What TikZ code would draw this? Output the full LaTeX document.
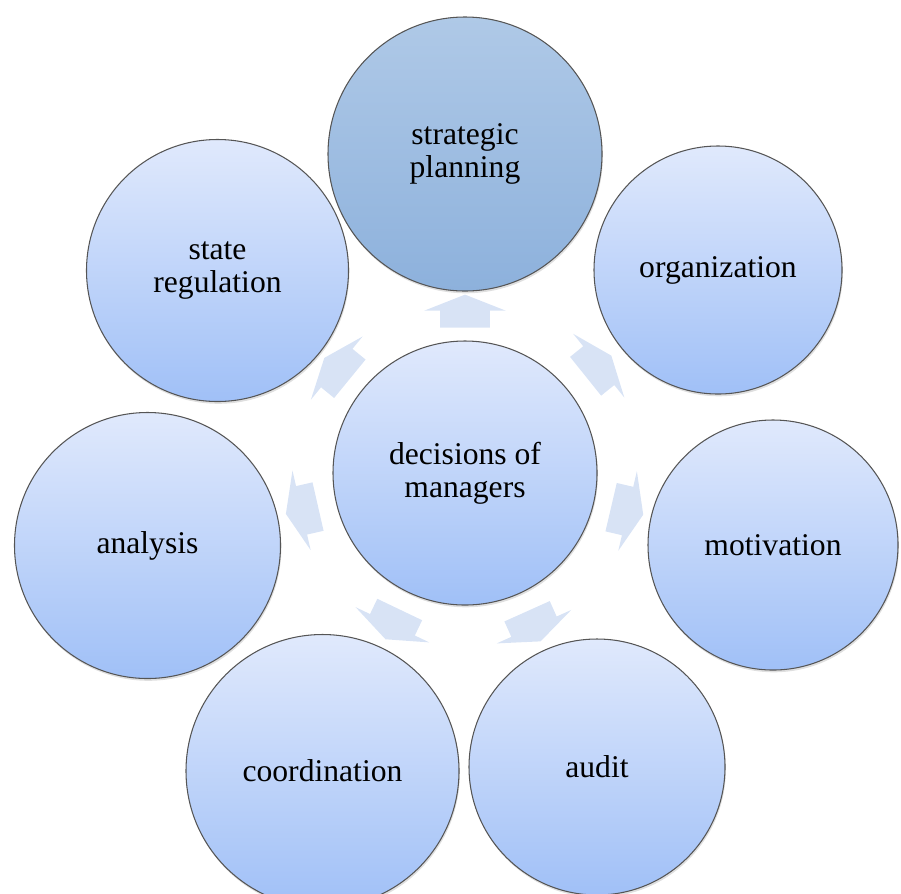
\documentclass[tikz,border=0pt]{standalone}
\usepackage{fontspec}
\setmainfont{Liberation Serif}
\usetikzlibrary{shapes.arrows, shadows}
\definecolor{bubbletop}{HTML}{E0E9FC}
\definecolor{bubblebottom}{HTML}{A0C0F7}
\definecolor{plantop}{HTML}{AFC9E7}
\definecolor{planbottom}{HTML}{8DB1DC}
\definecolor{arrowfill}{HTML}{D8E3F5}
\definecolor{rim}{HTML}{555555}

\begin{document}
\begin{tikzpicture}
      % Styles of the circles and of the block arrows
      \tikzstyle{bubble} = [circle, draw=rim, line width=0.6pt, top color=bubbletop, bottom color=bubblebottom, inner sep=0pt, align=center, font=\rmfamily\fontsize{18}{19}\selectfont, drop shadow={opacity=0.25, shadow xshift=0.5pt, shadow yshift=-1.3pt}]
      \tikzstyle{keybubble} = [bubble, top color=plantop, bottom color=planbottom]
      \tikzstyle{flow} = [single arrow, fill=arrowfill, draw=none, inner xsep=0pt, inner ysep=0.49cm, minimum height=0.66cm, single arrow head extend=0.32cm, single arrow tip angle=137, sloped, allow upside down]

      \useasboundingbox (0,0) rectangle (18.02,-17.86);

      % Centre
      \node[bubble, minimum size=5.28cm] (dec) at (9.30,-9.46) {decisions of\\managers};

      % Ring of functions
      \node[keybubble, minimum size=5.48cm] (plan) at (9.30,-3.08) {strategic\\planning};
      \node[bubble, minimum size=4.96cm] (org) at (14.36,-5.40) {organization};
      \node[bubble, minimum size=5.00cm] (mot) at (15.46,-10.90) {motivation};
      \node[bubble, minimum size=5.12cm] (aud) at (11.94,-15.34) {audit};
      \node[bubble, minimum size=5.46cm] (coord) at (6.45,-15.42) {coordination};
      \node[bubble, minimum size=5.32cm] (ana) at (2.95,-10.91) {analysis};
      \node[bubble, minimum size=5.24cm] (reg) at (4.35,-5.41) {state\\regulation};

      % Arrows from the centre outwards
      \path (dec) -- node[flow] (a1) {} (plan);
      \path (dec) -- node[flow] (a2) {} (org);
      \path (dec) -- node[flow] (a3) {} (mot);
      \path (dec) -- node[flow] (a4) {} (aud);
      \path (dec) -- node[flow] (a5) {} (coord);
      \path (dec) -- node[flow] (a6) {} (ana);
      \path (dec) -- node[flow] (a7) {} (reg);

    \end{tikzpicture}
\end{document}
